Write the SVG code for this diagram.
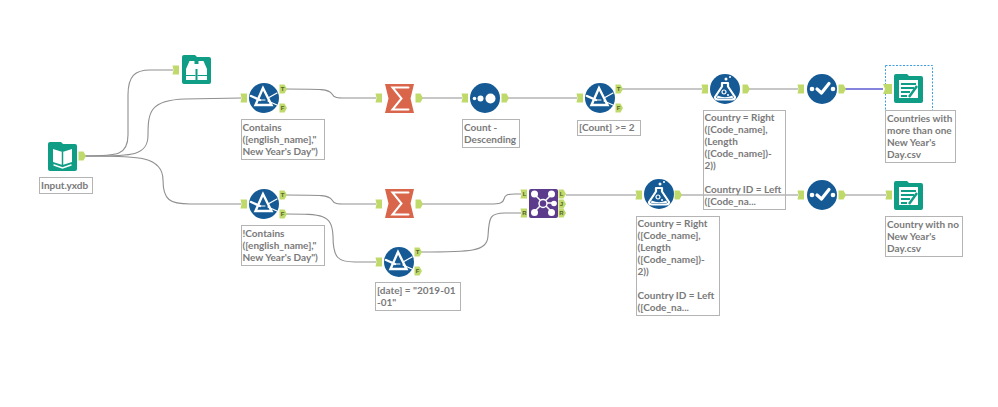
<svg xmlns="http://www.w3.org/2000/svg" width="998" height="407" viewBox="0 0 998 407">
<style>
.wire{fill:none;stroke:#8f8f8f;stroke-width:1.100}
.port{fill:#bfd96b}
.pt{font:bold 6px "Liberation Sans",sans-serif;fill:#55622a;text-anchor:middle}
.note{fill:#fff;stroke:#b4b4b4;stroke-width:1}
.lbl{font:bold 10px Lato,sans-serif;fill:#7a7a7a}
.blue{fill:#155a94}
.teal{fill:#0f9d85}
.w{fill:#fff}
.ws{fill:none;stroke:#fff;stroke-linecap:round}
</style>
<defs>
<path id="pin" class="port" d="M-3.500,-4.500H3V4.500H-3.500L-2.500,0Z"/>
<path id="pout" class="port" d="M-3.500,-4.500H1.500L4,0L1.500,4.500H-3.500Z"/>
<g id="i-filter">
<circle class="blue" r="15"/>
<path class="ws" stroke-width="2.400" stroke-linejoin="miter" d="M-1,-10L-8.500,7H7.500Z"/>
<path class="ws" stroke-width="2.400" d="M-13,-2L-4,2"/>
<path class="ws" stroke-width="1.300" d="M4,0L13,-5M4,3L13,7"/>
<path class="ws" stroke-width="1" d="M-3,2H1"/>
</g>
<g id="i-flask">
<circle class="blue" r="15"/>
<path class="ws" stroke-width="2.200" stroke-linejoin="round" d="M-3,-6V-2.500L-10,8Q-10,10.500 -7,10.500H7Q10,10.500 10,8L3,-2.500V-6Z"/>
<path class="w" d="M-7.500,6.500Q0,10 7.500,6.500L8,9H-8Z"/>
<circle class="ws" cx="-1" cy="3" r="2" stroke-width="1.200"/>
<circle class="w" cx="3" cy="6" r="1"/>
<circle class="w" cx="1" cy="-10" r="1.500"/>
<circle class="w" cx="5" cy="-12" r="1"/>
</g>
<g id="i-select">
<circle class="blue" r="15"/>
<circle class="w" cx="-10" cy="0" r="2.300"/>
<circle class="w" cx="11" cy="0" r="2.300"/>
<path class="ws" stroke-width="3.200" stroke-linejoin="round" d="M-5,0L-0.500,4L7,-5.500"/>
</g>
<g id="i-sum">
<path fill="#d9654a" d="M-14.500,-14.500H14.500L11,0L14.500,14.500H-14.500L-11,0Z"/>
<path class="ws" stroke-width="2" stroke-linecap="square" d="M9,-11H-7L2,0L-7,11H9"/>
</g>
<path id="folder" class="teal" d="M0,2Q0,0 2,0H13L15,2H27Q29,2 29,4V27Q29,29 27,29H2Q0,29 0,27Z"/>
<g id="i-output">
<use href="#folder"/>
<path class="w" d="M5,6H24V24H5Z"/>
<path stroke="#0f9d85" stroke-width="2" fill="none" d="M7,10H22M7,14H20M7,18H16M7,22H13"/>
<path stroke="#0f9d85" stroke-width="2.500" fill="none" d="M15,23L23,12"/>
</g>
</defs>

<g id="connectors">
<path class="wire" d="M85,156C118,156 128,155 128,135V95C128,76 135,70 150,70H173"/>
<path class="wire" d="M85,156C130,156 148,157 148,135C148,112 150,100 185,99L241,98"/>
<path class="wire" d="M85,156C135,156 163,155 163,180C163,200 170,204 190,204H241"/>
<path class="wire" d="M286,89C322,89 329,89 332,94C334,98 338,98 345,98H376"/>
<path class="wire" d="M286,195C322,195 329,195 332,200C334,204 338,204 345,204H376"/>
<path class="wire" d="M286,214C322,214 332,214 333,236C333,258 338,262 355,262H376"/>
<path class="wire" d="M422,98H462"/>
<path class="wire" d="M422,204H490C500,204 503,203 504,199C505,195 507,194 515,194H521"/>
<path class="wire" d="M421,252C470,252 487,252 488,236C489,217 490,213 505,213H521"/>
<path class="wire" d="M508,98H577"/>
<path class="wire" d="M622,89H702"/>
<path class="wire" d="M748,89H798"/>
<path d="M845,89H883" fill="none" stroke="#5b5bd0" stroke-width="1.300"/>
<path class="wire" d="M566,195H636"/>
<path class="wire" d="M681,195H798"/>
<path class="wire" d="M845,195H886"/>
</g>

<g id="node-input">
<g transform="translate(48,142)">
<use href="#folder"/>
<path class="w" d="M5,7L14.500,10L24,7V20L14.500,23L5,20Z"/>
<path stroke="#0f9d85" stroke-width="1.500" fill="none" d="M14.500,10V23"/>
<path class="ws" stroke-width="1.500" d="M6,23L14.500,26L23,23"/>
</g>
<use href="#pout" x="82" y="156"/>
<rect class="note" x="39.500" y="177.500" width="53" height="16"/>
<text class="lbl" x="41" y="189">Input.yxdb</text>
</g>

<g id="node-browse">
<g transform="translate(182,55)">
<use href="#folder"/>
<path class="w" d="M7.500,6H12.500V11L13.500,13V25H4V14ZM16.500,6H21.500L25,14V25H15.500V13L16.500,11Z"/>
<path class="w" d="M12,9H17V14H12Z"/>
<path stroke="#0f9d85" stroke-width="1.200" fill="none" d="M4,20.500H13.500M15.500,20.500H25"/>
</g>
<use href="#pin" x="176" y="70"/>
</g>

<g id="node-filter-contains">
<use href="#i-filter" x="264" y="98"/>
<use href="#pin" x="244" y="98"/>
<use href="#pout" x="283" y="89"/><text class="pt" x="282.500" y="91">T</text>
<use href="#pout" x="283" y="108"/><text class="pt" x="282.500" y="110">F</text>
<rect class="note" x="241.500" y="119.500" width="83" height="40"/>
<text class="lbl" x="242.500" y="131">Contains</text>
<text class="lbl" x="242.500" y="143">([english_name],"</text>
<text class="lbl" x="242.500" y="155">New Year's Day")</text>
</g>

<g id="node-filter-not-contains">
<use href="#i-filter" x="264" y="204"/>
<use href="#pin" x="244" y="204"/>
<use href="#pout" x="283" y="195"/><text class="pt" x="282.500" y="197">T</text>
<use href="#pout" x="283" y="214"/><text class="pt" x="282.500" y="216">F</text>
<rect class="note" x="241.500" y="225.500" width="83" height="40"/>
<text class="lbl" x="242.500" y="237">!Contains</text>
<text class="lbl" x="242.500" y="249">([english_name],"</text>
<text class="lbl" x="242.500" y="261">New Year's Day")</text>
</g>

<g id="node-summarize-top">
<use href="#i-sum" x="399.500" y="98.500"/>
<use href="#pin" x="379" y="98"/>
<use href="#pout" x="419" y="98"/>
</g>

<g id="node-summarize-bottom">
<use href="#i-sum" x="399.500" y="203.500"/>
<use href="#pin" x="379" y="204"/>
<use href="#pout" x="419" y="204"/>
</g>

<g id="node-sort">
<circle class="blue" cx="485" cy="98" r="15"/>
<circle class="w" cx="474.500" cy="98.500" r="1.800"/>
<circle class="w" cx="480.500" cy="98.500" r="3"/>
<circle class="w" cx="490.500" cy="98.500" r="5"/>
<use href="#pin" x="465" y="98"/>
<use href="#pout" x="505" y="98"/>
<rect class="note" x="462.500" y="119.500" width="57" height="28"/>
<text class="lbl" x="464" y="131">Count -</text>
<text class="lbl" x="464" y="143">Descending</text>
</g>

<g id="node-filter-count">
<use href="#i-filter" x="600" y="98"/>
<use href="#pin" x="580" y="98"/>
<use href="#pout" x="619" y="89"/><text class="pt" x="618.500" y="91">T</text>
<use href="#pout" x="619" y="108"/><text class="pt" x="618.500" y="110">F</text>
<rect class="note" x="577.500" y="120.500" width="63" height="15"/>
<text class="lbl" x="579" y="131">[Count] &gt;= 2</text>
</g>

<g id="node-filter-date">
<use href="#i-filter" x="399" y="262"/>
<use href="#pin" x="379" y="262"/>
<use href="#pout" x="418" y="252"/><text class="pt" x="417.500" y="254">T</text>
<use href="#pout" x="418" y="271"/><text class="pt" x="417.500" y="273">F</text>
<rect class="note" x="375.500" y="282.500" width="85" height="28"/>
<text class="lbl" x="377" y="294">[date] = "2019-01</text>
<text class="lbl" x="377" y="306">-01"</text>
</g>

<g id="node-join">
<rect x="529" y="189" width="29" height="29" rx="2" fill="#5c3b8c"/>
<path class="ws" stroke-width="1.500" d="M534,194L552,212M552,194L534,212M543,203H554"/>
<circle class="w" cx="534.500" cy="194" r="3.500"/>
<circle class="w" cx="551.500" cy="194" r="3.500"/>
<circle class="w" cx="534.500" cy="212.500" r="3.500"/>
<circle class="w" cx="551.500" cy="212.500" r="3.500"/>
<circle class="w" cx="554" cy="203.500" r="2.800"/>
<circle cx="543" cy="203.500" r="4" fill="#5c3b8c" stroke="#fff" stroke-width="1.500"/>
<use href="#pin" x="524" y="194"/><text class="pt" x="524.500" y="196">L</text>
<use href="#pin" x="524" y="213"/><text class="pt" x="524.500" y="215">R</text>
<use href="#pout" x="562" y="194"/><text class="pt" x="561.500" y="196">L</text>
<use href="#pout" x="562" y="204"/><text class="pt" x="561.500" y="206">J</text>
<use href="#pout" x="562" y="213"/><text class="pt" x="561.500" y="215">R</text>
</g>

<g id="node-formula-bottom">
<use href="#i-flask" x="659" y="194"/>
<use href="#pin" x="639" y="195"/>
<use href="#pout" x="678" y="195"/>
<rect class="note" x="636.500" y="216.500" width="83" height="99"/>
<text class="lbl" x="637.500" y="227">Country = Right</text>
<text class="lbl" x="637.500" y="239">([Code_name],</text>
<text class="lbl" x="637.500" y="251">(Length</text>
<text class="lbl" x="637.500" y="263">([Code_name])-</text>
<text class="lbl" x="637.500" y="275">2))</text>
<text class="lbl" x="637.500" y="299">Country ID = Left</text>
<text class="lbl" x="637.500" y="311">([Code_na...</text>
</g>

<g id="node-formula-top">
<use href="#i-flask" x="725" y="89"/>
<use href="#pin" x="705" y="89"/>
<use href="#pout" x="746" y="89"/>
<rect class="note" x="703.500" y="110.500" width="82" height="99" fill-opacity="0"/>
<text class="lbl" x="704.500" y="121">Country = Right</text>
<text class="lbl" x="704.500" y="133">([Code_name],</text>
<text class="lbl" x="704.500" y="145">(Length</text>
<text class="lbl" x="704.500" y="157">([Code_name])-</text>
<text class="lbl" x="704.500" y="169">2))</text>
<text class="lbl" x="704.500" y="193">Country ID = Left</text>
<text class="lbl" x="704.500" y="205">([Code_na...</text>
</g>

<g id="node-select-top">
<use href="#i-select" x="822" y="89"/>
<use href="#pin" x="801" y="89"/>
<use href="#pout" x="842" y="89"/>
</g>

<g id="node-select-bottom">
<use href="#i-select" x="822" y="195"/>
<use href="#pin" x="801" y="195"/>
<use href="#pout" x="842" y="195"/>
</g>

<g id="node-output-top">
<rect x="885.500" y="65.500" width="47" height="45" fill="none" stroke="#3f9fe0" stroke-width="1" stroke-dasharray="2 1.500"/>
<use href="#i-output" x="894" y="74"/>
<path class="port" d="M883,84H892V94H883L885,89Z"/>
<rect class="note" x="885.500" y="110.500" width="70" height="52"/>
<text class="lbl" x="887" y="122">Countries with</text>
<text class="lbl" x="887" y="134">more than one</text>
<text class="lbl" x="887" y="146">New Year's</text>
<text class="lbl" x="887" y="158">Day.csv</text>
</g>

<g id="node-output-bottom">
<use href="#i-output" x="894" y="181"/>
<use href="#pin" x="889" y="195"/>
<rect class="note" x="885.500" y="216.500" width="77" height="40"/>
<text class="lbl" x="887" y="228">Country with no</text>
<text class="lbl" x="887" y="240">New Year's</text>
<text class="lbl" x="887" y="252">Day.csv</text>
</g>
</svg>
